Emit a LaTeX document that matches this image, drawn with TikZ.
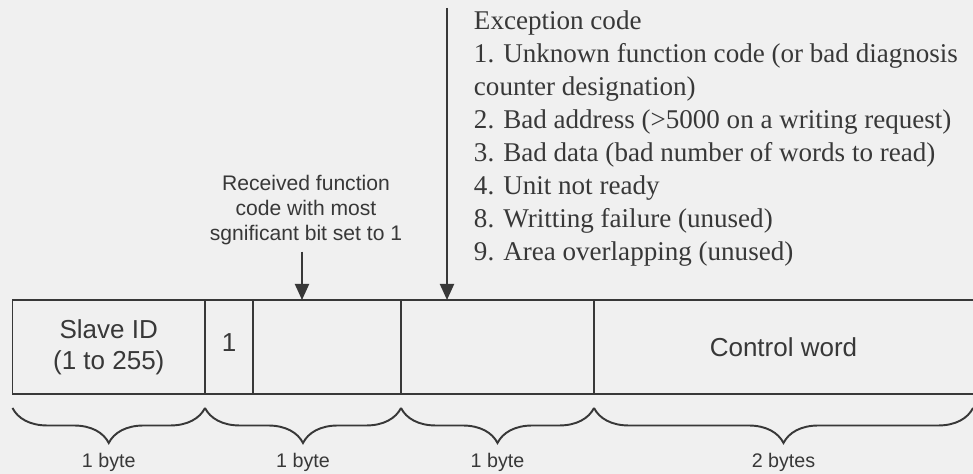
\documentclass[tikz,border=0pt]{standalone}
\usepackage{fontspec}
\setmainfont{Liberation Serif}
\setsansfont{Liberation Sans}
\usetikzlibrary{arrows.meta,decorations.pathreplacing}

\begin{document}
\begin{tikzpicture}[black!78, line width=1.1pt,
    cell/.style={font=\sffamily\fontsize{14.8}{17.6}\selectfont, align=center},
    note/.style={font=\sffamily\fontsize{12}{14.2}\selectfont, align=center},
    size/.style={font=\sffamily\fontsize{11.2}{13}\selectfont},
    codes/.style={font=\fontsize{15.4}{18.8}\selectfont, align=left, inner sep=0pt},
    bytebrace/.style={decorate, decoration={brace, mirror, amplitude=0.7cm}},
    pointer/.style={-{Triangle[length=3.2mm,width=2.8mm]}}
  ]

	% Page
	\fill[black!6] (0,0) rectangle (19.46,9.48);
	\useasboundingbox (0,0) rectangle (19.46,9.48);

	% Frame dimensions
	\def\boxtop{3.48}
	\def\boxbot{1.6}
	\def\boxmid{2.54}
	\def\xa{0.25}
	\def\xb{4.1}
	\def\xc{5.06}
	\def\xd{8.02}
	\def\xe{11.88}
	\def\xf{19.46}

	% Box
	\draw (\xf,\boxtop) -- (\xa,\boxtop) -- (\xa,\boxbot) -- (\xf,\boxbot);
	\foreach \x in {\xb,\xc,\xd,\xe}
		\draw (\x,\boxtop) -- (\x,\boxbot);

	% Fields
	\node[cell] (slave) at ({(\xa+\xb)/2}, \boxmid) {Slave ID\\(1 to 255)};
	\node[cell] (msb) at ({(\xb+\xc)/2}, 2.62) {1};
	\node[cell] (ctrl) at ({(\xe+\xf)/2}, \boxmid) {Control word};

	% Function code
	\node[note] (recv) at (6.12,5.28) {Received function\\code with most\\sgnificant bit set to 1};
	\coordinate (recvtip) at (6.04,\boxtop);
	\draw[pointer] (recv.south -| recvtip) -- (recvtip);

	% Exception code
	\node[codes, anchor=north west] (codes) at (9.46,9.28) {Exception code\\
		1. Unknown function code (or bad diagnosis\\
		counter designation)\\
		2. Bad address (>5000 on a writing request)\\
		3. Bad data (bad number of words to read)\\
		4. Unit not ready\\
		8. Writting failure (unused)\\
		9. Area overlapping (unused)};
	\coordinate (codestop) at (8.94,9.32);
	\coordinate (codestip) at (8.94,\boxtop);
	\draw[pointer] (codestop) -- (codestip);

	% Sizes
	\foreach \l/\r/\t [count=\i] in {\xa/\xb/1 byte, \xb/\xd/1 byte, \xd/\xe/1 byte, \xe/\xf/2 bytes} {
		\draw[bytebrace] (\l,1.32) -- (\r,1.32);
		\node[size] (size\i) at ({(\l+\r)/2},0.24) {\t};
	}

\end{tikzpicture}
\end{document}
